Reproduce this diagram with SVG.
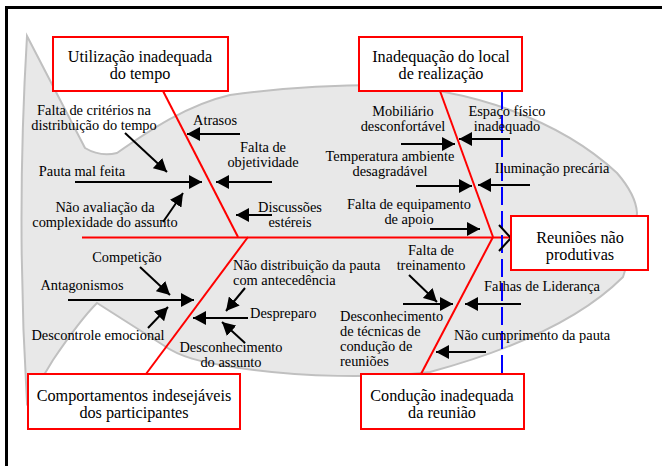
<svg xmlns="http://www.w3.org/2000/svg" width="662" height="466" viewBox="0 0 662 466" font-family="'Liberation Serif','Times New Roman',serif">
<style>
text{font-family:"Liberation Serif","Times New Roman",serif;fill:#000}
.lbl{font-size:14.4px}
.box{fill:#fff;stroke:#ff0000;stroke-width:2}
.bt{font-size:16.2px;text-anchor:middle}
.c{text-anchor:middle}
.bone{stroke:#ff0000;stroke-width:2;fill:none}
.arr{stroke:#000;stroke-width:2;fill:none;marker-end:url(#ah)}
</style>
<defs>
<marker id="ah" markerUnits="userSpaceOnUse" markerWidth="14" markerHeight="14" refX="13" refY="7" orient="auto">
<path d="M0,0 L13,7 L0,14 Z" fill="#000"/>
</marker>
</defs>
<rect width="662" height="466" fill="#fff"/>
<g id="frame">
<line x1="5" y1="7.5" x2="662" y2="7.5" stroke="#000" stroke-width="3"/>
<line x1="6.5" y1="6" x2="6.5" y2="466" stroke="#000" stroke-width="3"/>
</g>
<g id="fish">
<path d="M27,36 L85,148 Q100,157 117,153 C150,130 187,105 230,95 C280,88 330,85 380,85 C470,88 560,120 617,173 Q636,195 637,213 Q635,240 623,277 C590,310 530,345 430,372 C380,378 300,378 233,367 C200,362 180,357 163,345 L97,303 Q80,320 53,360 L27,403 Q16,220 27,36 Z" fill="#e8e8e8" stroke="#c0c0c0" stroke-width="2"/>
</g>
<g id="connectors">
<line class="bone" x1="82" y1="237.5" x2="511" y2="237.5"/>
<line class="bone" x1="163" y1="91" x2="238" y2="237"/>
<line class="bone" x1="248" y1="237" x2="146" y2="374"/>
<line class="bone" x1="440" y1="91" x2="493" y2="237"/>
<line class="bone" x1="493" y1="237" x2="421" y2="374"/>
<line x1="502" y1="91" x2="502" y2="374" stroke="#0000ff" stroke-width="2" stroke-dasharray="18,6"/>
<path d="M499,225 L511,238 L499,251" stroke="#000" stroke-width="2" fill="none"/>
<line class="arr" x1="240" y1="134" x2="187" y2="134"/>
<line class="arr" x1="272" y1="182" x2="216" y2="182"/>
<line class="arr" x1="272" y1="215" x2="236" y2="215"/>
<line class="arr" x1="75" y1="182" x2="202" y2="182"/>
<line class="arr" x1="125" y1="133" x2="167" y2="172"/>
<line class="arr" x1="163" y1="222" x2="183" y2="193"/>
<line class="arr" x1="140" y1="267" x2="170" y2="295"/>
<line class="arr" x1="68" y1="300" x2="194" y2="300"/>
<line class="arr" x1="148" y1="328" x2="168" y2="307"/>
<line class="arr" x1="245" y1="288" x2="226" y2="311"/>
<line class="arr" x1="248" y1="318" x2="193" y2="318"/>
<line class="arr" x1="245" y1="343" x2="222" y2="322"/>
<line class="arr" x1="401" y1="144" x2="455" y2="144"/>
<line class="arr" x1="510" y1="139" x2="459" y2="139"/>
<line class="arr" x1="416" y1="186" x2="472" y2="186"/>
<line class="arr" x1="530" y1="185" x2="478" y2="185"/>
<line class="arr" x1="430" y1="229" x2="480" y2="229"/>
<line class="arr" x1="409" y1="275" x2="437" y2="302"/>
<line class="arr" x1="521" y1="304" x2="465" y2="304"/>
<line class="arr" x1="403" y1="304" x2="453" y2="304"/>
<line class="arr" x1="486" y1="352" x2="436" y2="352"/>
</g>
<g id="n-tempo">
<rect class="box" x="53" y="37" width="175" height="54"/>
<text class="bt" x="140" y="62">Utilização inadequada</text>
<text class="bt" x="140" y="79">do tempo</text>
</g>
<g id="n-local">
<rect class="box" x="359" y="37" width="163" height="54"/>
<text class="bt" x="441" y="62">Inadequação do local</text>
<text class="bt" x="441" y="79">de realização</text>
</g>
<g id="n-efeito">
<rect class="box" x="511" y="216" width="137" height="54"/>
<text class="bt" x="580" y="243">Reuniões não</text>
<text class="bt" x="580" y="260">produtivas</text>
</g>
<g id="n-comport">
<rect class="box" x="28" y="374" width="212" height="55"/>
<text class="bt" x="134" y="401">Comportamentos indesejáveis</text>
<text class="bt" x="134" y="418">dos participantes</text>
</g>
<g id="n-conducao">
<rect class="box" x="361" y="374" width="163" height="55"/>
<text class="bt" x="442" y="401">Condução inadequada</text>
<text class="bt" x="442" y="418">da reunião</text>
</g>
<g id="causes">
<text class="c lbl" x="215" y="125">Atrasos</text>
<text class="c lbl" x="263" y="152">Falta de</text>
<text class="c lbl" x="263" y="167">objetividade</text>
<text class="c lbl" x="290" y="212">Discussões</text>
<text class="c lbl" x="290" y="227">estéreis</text>
<text class="c lbl" x="82" y="176">Pauta mal feita</text>
<text class="c lbl" x="94" y="115">Falta de critérios na</text>
<text class="c lbl" x="94" y="130">distribuição do tempo</text>
<text class="c lbl" x="105" y="212">Não avaliação da</text>
<text class="c lbl" x="105" y="227">complexidade do assunto</text>
<text class="c lbl" x="127" y="262">Competição</text>
<text class="c lbl" x="82" y="290">Antagonismos</text>
<text class="c lbl" x="98" y="340">Descontrole emocional</text>
<text class="lbl" x="233" y="270">Não distribuição da pauta</text>
<text class="lbl" x="233" y="285">com antecedência</text>
<text class="lbl" x="250" y="318">Despreparo</text>
<text class="c lbl" x="231" y="352">Desconhecimento</text>
<text class="c lbl" x="231" y="367">do assunto</text>
<text class="c lbl" x="403" y="116">Mobiliário</text>
<text class="c lbl" x="403" y="131">desconfortável</text>
<text class="c lbl" x="507" y="116">Espaço físico</text>
<text class="c lbl" x="507" y="131">inadequado</text>
<text class="c lbl" x="390" y="161">Temperatura ambiente</text>
<text class="c lbl" x="390" y="176">desagradável</text>
<text class="c lbl" x="552" y="173">Iluminação precária</text>
<text class="c lbl" x="409" y="209">Falta de equipamento</text>
<text class="c lbl" x="409" y="224">de apoio</text>
<text class="c lbl" x="431" y="255">Falta de</text>
<text class="c lbl" x="431" y="270">treinamento</text>
<text class="c lbl" x="542" y="291">Falhas de Liderança</text>
<text class="lbl" x="340" y="321">Desconhecimento</text>
<text class="lbl" x="340" y="336">de técnicas de</text>
<text class="lbl" x="340" y="351">condução de</text>
<text class="lbl" x="340" y="366">reuniões</text>
<text class="lbl" x="454" y="340">Não cumprimento da pauta</text>
</g>
</svg>
